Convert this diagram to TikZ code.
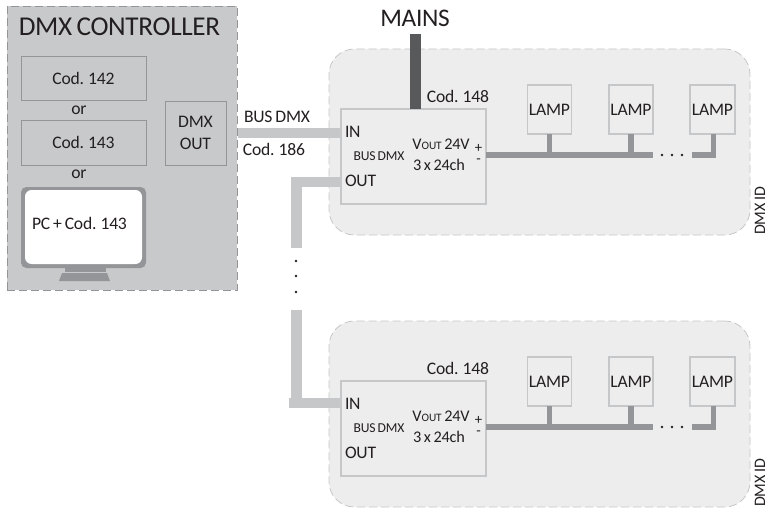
\documentclass[tikz,border=0pt]{standalone}
\usepackage{fontspec}
\setmainfont[LetterSpace=-1.2,WordSpace=0.75]{Carlito}
\definecolor{ctrlfill}{HTML}{C8C9CB}
\definecolor{panelfill}{HTML}{EDEDED}
\definecolor{wirelight}{HTML}{C6C7C9}
\definecolor{wiredark}{HTML}{58595B}
\definecolor{wiremid}{HTML}{939598}
\definecolor{txt}{HTML}{231F20}
\tikzset{
  sized/.style 2 args={minimum width=#1*0.75pt,minimum height=#2*0.75pt,inner sep=0pt,outer sep=0pt,rectangle},
  ctrlzone/.style={draw=wiremid,fill=ctrlfill,line width=0.6pt,dash pattern=on 6pt off 3pt},
  panelzone/.style={draw=wirelight,fill=panelfill,line width=0.6pt,rounded corners=19pt,dash pattern=on 6pt off 3pt},
  ctrlbox/.style={draw=wiremid,line width=0.6pt,font=\fontsize{13.2}{16}\selectfont,align=center,text=txt},
  unitbox/.style={draw=wirelight,fill=panelfill,line width=1.3pt},
  lampbox/.style={draw=wirelight,fill=panelfill,line width=1.3pt,font=\fontsize{13.2}{16}\selectfont,text=txt},
  lbl/.style={inner sep=0pt,outer sep=0pt,text=txt,font=\fontsize{13.2}{16}\selectfont},
  tightlbl/.style={lbl,font=\fontsize{12.2}{14}\selectfont},
  signlbl/.style={lbl,font=\fontsize{11}{11}\selectfont},
  smalllbl/.style={lbl,font=\fontsize{10.2}{12}\selectfont},
  buslight/.style={draw=wirelight,line width=7.8pt},
  busmains/.style={draw=wiredark,line width=8pt},
  buslamp/.style={draw=wiremid,line width=4.5pt},
  stub/.style={draw=wiremid,line width=3.8pt},
  dotmark/.style={circle,fill=txt,inner sep=0pt,minimum size=2pt},
}
\begin{document}
\begin{tikzpicture}[x=0.75pt,y=-0.75pt]
\useasboundingbox[fill=white] (0,0) rectangle (771,510);
% controller
\node[sized={230}{284},ctrlzone] (ctrl) at (122,148) {};
\node[lbl,font=\fontsize{20.4}{24}\selectfont] (ctrltitle) at (119.5,27) {DMX CONTROLLER};
\node[sized={125}{44},ctrlbox] (c142) at (83.5,78) {Cod. 142};
\node[lbl] (or1) at (79,110) {or};
\node[sized={125}{45},ctrlbox] (c143) at (83.5,142.5) {Cod. 143};
\node[lbl] (or2) at (79,174.5) {or};
\node[sized={61}{64},ctrlbox] (dmxout) at (195.5,133) {DMX\\OUT};
% monitor
\node[sized={125}{81},fill=wiremid,rounded corners=4pt] (monitor) at (83.5,227.5) {};
\node[sized={117}{74},fill=white,rounded corners=5pt,lbl] (screen) at (83.5,227) {};
\node[lbl] (pctext) at (79.5,223) {PC + Cod. 143};
\fill[wiremid] (65,268) rectangle (106,272);
\fill[wiremid] (62,273) -- (107,273) -- (110,281) -- (59,281) -- cycle;
% panels
\node[sized={421}{186},panelzone] (panelA) at (539.5,142) {};
\node[sized={421}{186},panelzone] (panelB) at (539.5,414) {};
% connector end points
\coordinate (busstart) at (238,133);
\coordinate (mainstop) at (415.5,34);
\coordinate (outcorner) at (296.5,182);
\coordinate (outend) at (296.5,248);
\coordinate (nextstart) at (296.5,310);
\coordinate (nextcorner) at (296.5,403);
\coordinate (nextfree) at (289,403);
% wires under the unit boxes
\draw[buslight] (busstart) -- (344,133);
\draw[buslight] (344,182) -- (outcorner) -- (outend);
\draw[buslight] (nextstart) -- (nextcorner);
\draw[buslight] (nextfree) -- (344,403);
\foreach \dy/\p in {0/A,272/B}{
  \node[sized={145}{95},unitbox] (unit\p) at (413.5,156.5+\dy) {};
  \node[sized={44}{49},lampbox] (lamp1\p) at (549.5,109.5+\dy) {LAMP};
  \node[sized={44}{49},lampbox] (lamp2\p) at (631,109.5+\dy) {LAMP};
  \node[sized={45}{49},lampbox] (lamp3\p) at (712.5,109.5+\dy) {LAMP};
  \coordinate (busA\p) at (486,155+\dy);
  \coordinate (busB\p) at (653,155+\dy);
  \coordinate (busC\p) at (692,155+\dy);
  \coordinate (busD\p) at (715,155+\dy);
  \draw[buslamp] (busA\p) -- (busB\p);
  \draw[buslamp] (busC\p) -- (busD\p);
  \draw[stub] (lamp1\p.south) -- (lamp1\p.south |- busA\p);
  \draw[stub] (lamp2\p.south) -- (lamp2\p.south |- busA\p);
  \draw[stub] (lamp3\p.south) ++(1,0) -- ++(0,23.5);
  \node[dotmark] (dotA\p) at (662,155+\dy) {};
  \node[dotmark] (dotB\p) at (672,155+\dy) {};
  \node[dotmark] (dotC\p) at (682,155+\dy) {};
  \node[lbl,anchor=west] (in\p) at (345,132+\dy) {IN};
  \node[lbl,anchor=west] (out\p) at (345,181+\dy) {OUT};
  \node[smalllbl] (bus\p) at (379,156+\dy) {BUS DMX};
  \node[tightlbl] (vout\p) at (441,144+\dy) {V{\fontsize{8.5}{10}\selectfont OUT} 24V};
  \node[tightlbl] (ch\p) at (439,165+\dy) {3 x 24ch};
  \node[signlbl] (plus\p) at (478.5,148+\dy) {+};
  \node[signlbl] (minus\p) at (478.5,161+\dy) {-};
  \node[lbl] (cod\p) at (458,96+\dy) {Cod. 148};
  \node[lbl,rotate=90,font=\fontsize{12}{14}\selectfont] (id\p) at (760,211+\dy) {DMX ID};
}
\draw[busmains] (mainstop) -- (mainstop |- unitA.north);
\node[lbl,font=\fontsize{19}{22}\selectfont] (mains) at (415,18) {MAINS};
\node[lbl] (busdmx) at (277,117) {BUS DMX};
\node[lbl] (cod186) at (274,149.5) {Cod. 186};
\node[dotmark] (vdotA) at (296,261) {};
\node[dotmark] (vdotB) at (296,276) {};
\node[dotmark] (vdotC) at (296,292) {};
\end{tikzpicture}
\end{document}
